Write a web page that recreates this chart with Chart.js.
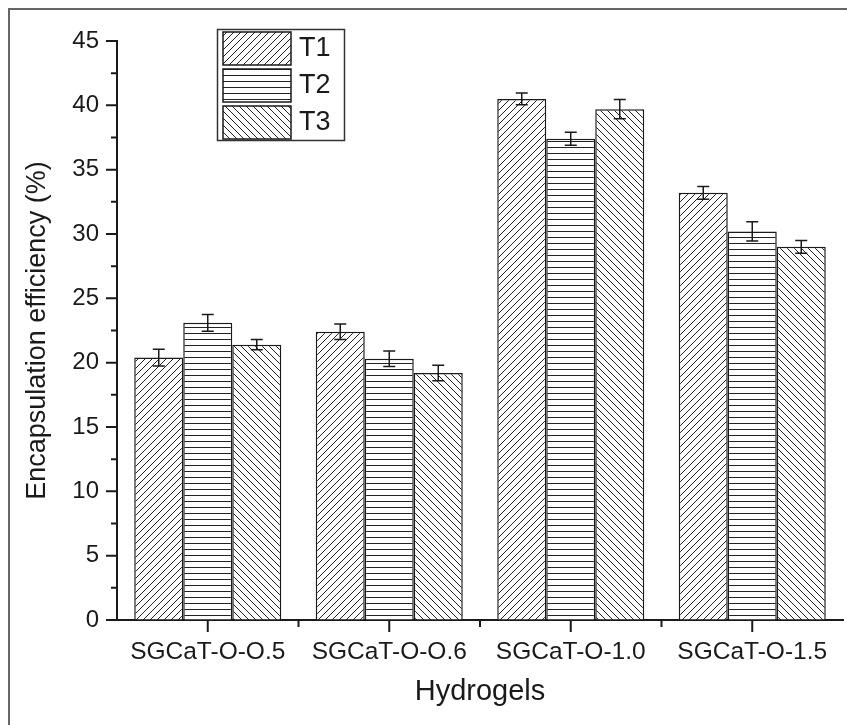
<!DOCTYPE html>
<html>
<head>
<meta charset="utf-8">
<script src="https://cdn.jsdelivr.net/npm/chart.js@4.4.1/dist/chart.umd.min.js"></script>
<style>
  html, body { margin: 0; padding: 0; background: #fff; }
  #wrap { width: 847px; height: 725px; }
</style>
</head>
<body>
<div id="wrap"><canvas id="chart" width="847" height="725"></canvas></div>
<script>
// data
const categories = ['SGCaT-O-O.5', 'SGCaT-O-O.6', 'SGCaT-O-1.0', 'SGCaT-O-1.5'];
const seriesNames = ['T1', 'T2', 'T3'];
const t1Values = [20.4, 22.4, 40.5, 33.2];
const t2Values = [23.1, 20.3, 37.4, 30.2];
const t3Values = [21.4, 19.2, 39.7, 29.0];
const t1Errors = [0.65, 0.6, 0.45, 0.5];
const t2Errors = [0.65, 0.6, 0.5, 0.75];
const t3Errors = [0.4, 0.6, 0.75, 0.5];
const yTicks = [0, 5, 10, 15, 20, 25, 30, 35, 40, 45];

const FONT = "'Liberation Sans', Arial, sans-serif";
const INK = '#1a1a1a';

// hatch fills
function makeHatch(kind) {
  const s = 7;
  const c = document.createElement('canvas');
  c.width = s; c.height = kind === 'horiz' ? 6 : s;
  const g = c.getContext('2d');
  g.fillStyle = '#fff';
  g.fillRect(0, 0, c.width, c.height);
  g.strokeStyle = '#222';
  g.lineWidth = 1;
  g.beginPath();
  if (kind === 'fwd') {
    g.moveTo(-1, s + 1); g.lineTo(s + 1, -1);
    g.moveTo(-1, 1); g.lineTo(1, -1);
    g.moveTo(s - 1, s + 1); g.lineTo(s + 1, s - 1);
  } else if (kind === 'back') {
    g.moveTo(-1, -1); g.lineTo(s + 1, s + 1);
    g.moveTo(s - 1, -1); g.lineTo(s + 1, 1);
    g.moveTo(-1, s - 1); g.lineTo(1, s + 1);
  } else {
    g.moveTo(0, 3.5); g.lineTo(s, 3.5);
  }
  g.stroke();
  return g.createPattern(c, 'repeat');
}

const hatches = [makeHatch('fwd'), makeHatch('horiz'), makeHatch('back')];

// background + outer frame
const framePlugin = {
  id: 'frame',
  beforeDraw(chart) {
    const ctx = chart.ctx;
    ctx.save();
    ctx.fillStyle = '#fff';
    ctx.fillRect(0, 0, chart.width, chart.height);
    ctx.strokeStyle = '#666';
    ctx.lineWidth = 2;
    ctx.strokeRect(9, 9, chart.width + 20, chart.height + 20);
    ctx.restore();
  }
};

// error bars
const errorBarPlugin = {
  id: 'errorBars',
  afterDatasetsDraw(chart) {
    const ctx = chart.ctx;
    const y = chart.scales.y;
    ctx.save();
    ctx.strokeStyle = INK;
    ctx.lineWidth = 1.5;
    chart.data.datasets.forEach((ds, i) => {
      const meta = chart.getDatasetMeta(i);
      meta.data.forEach((bar, j) => {
        const v = ds.data[j], e = ds.errors[j];
        const top = y.getPixelForValue(v + e);
        const bot = y.getPixelForValue(v - e);
        const x = bar.x;
        ctx.beginPath();
        ctx.moveTo(x, top); ctx.lineTo(x, bot);
        ctx.moveTo(x - 6, top); ctx.lineTo(x + 6, top);
        ctx.moveTo(x - 6, bot); ctx.lineTo(x + 6, bot);
        ctx.stroke();
      });
    });
    ctx.restore();
  }
};

// outward major / minor tick marks
const tickPlugin = {
  id: 'tickMarks',
  afterDraw(chart) {
    const ctx = chart.ctx;
    const { x, y } = chart.scales;
    const area = chart.chartArea;
    ctx.save();
    ctx.strokeStyle = INK;
    ctx.lineWidth = 2;
    ctx.beginPath();
    yTicks.forEach(v => {
      const py = y.getPixelForValue(v);
      ctx.moveTo(area.left, py); ctx.lineTo(area.left - 11, py);
      if (v < 45) {
        const pm = y.getPixelForValue(v + 2.5);
        ctx.moveTo(area.left, pm); ctx.lineTo(area.left - 6, pm);
      }
    });
    categories.forEach((c, i) => {
      const px = x.getPixelForTick(i);
      ctx.moveTo(px, area.bottom); ctx.lineTo(px, area.bottom + 12);
      if (i > 0) {
        const pm = (px + x.getPixelForTick(i - 1)) / 2;
        ctx.moveTo(pm, area.bottom); ctx.lineTo(pm, area.bottom + 7);
      }
    });
    ctx.stroke();
    ctx.restore();
  }
};

// legend box, upper left inside the plot
const legendPlugin = {
  id: 'hatchLegend',
  afterDraw(chart) {
    const ctx = chart.ctx;
    ctx.save();
    ctx.strokeStyle = '#333';
    ctx.lineWidth = 1.5;
    ctx.strokeRect(217.5, 29.5, 127, 111);
    ctx.font = '27px ' + FONT;
    ctx.fillStyle = INK;
    ctx.textBaseline = 'middle';
    chart.data.datasets.forEach((ds, i) => {
      const top = 32 + i * 37;
      ctx.fillStyle = ds.backgroundColor;
      ctx.fillRect(223, top, 68, 33);
      ctx.strokeStyle = INK;
      ctx.lineWidth = 1.5;
      ctx.strokeRect(223, top, 68, 33);
      ctx.fillStyle = INK;
      ctx.fillText(ds.label, 299, top + 17);
    });
    ctx.restore();
  }
};

const datasets = [t1Values, t2Values, t3Values].map((vals, i) => ({
  label: seriesNames[i],
  data: vals,
  errors: [t1Errors, t2Errors, t3Errors][i],
  backgroundColor: hatches[i],
  borderColor: INK,
  borderWidth: 1.5,
  categoryPercentage: 0.81,
  barPercentage: 1.0
}));

new Chart(document.getElementById('chart'), {
  type: 'bar',
  data: { labels: categories, datasets: datasets },
  options: {
    responsive: false,
    animation: false,
    layout: { padding: { top: 41, right: 4, left: 0, bottom: 0 } },
    plugins: {
      legend: { display: false },
      tooltip: { enabled: false }
    },
    scales: {
      x: {
        grid: { display: true, drawOnChartArea: false, drawTicks: false },
        border: { color: INK, width: 2 },
        ticks: { color: INK, padding: 18, font: { family: FONT, size: 24.5 } },
        title: {
          display: true, text: 'Hydrogels', color: INK,
          font: { family: FONT, size: 29 }, padding: { bottom: 16 }
        },
        afterFit(scale) { scale.height = 105; }
      },
      y: {
        min: 0, max: 45,
        grid: { display: true, drawOnChartArea: false, drawTicks: false },
        border: { color: INK, width: 2 },
        ticks: {
          stepSize: 5, color: INK, padding: 18,
          font: { family: FONT, size: 24 }
        },
        title: {
          display: true, text: 'Encapsulation efficiency (%)', color: INK,
          font: { family: FONT, size: 27 }, padding: { top: 21 }
        },
        afterFit(scale) { scale.width = 117; }
      }
    }
  },
  plugins: [framePlugin, errorBarPlugin, tickPlugin, legendPlugin]
});
</script>
</body>
</html>
